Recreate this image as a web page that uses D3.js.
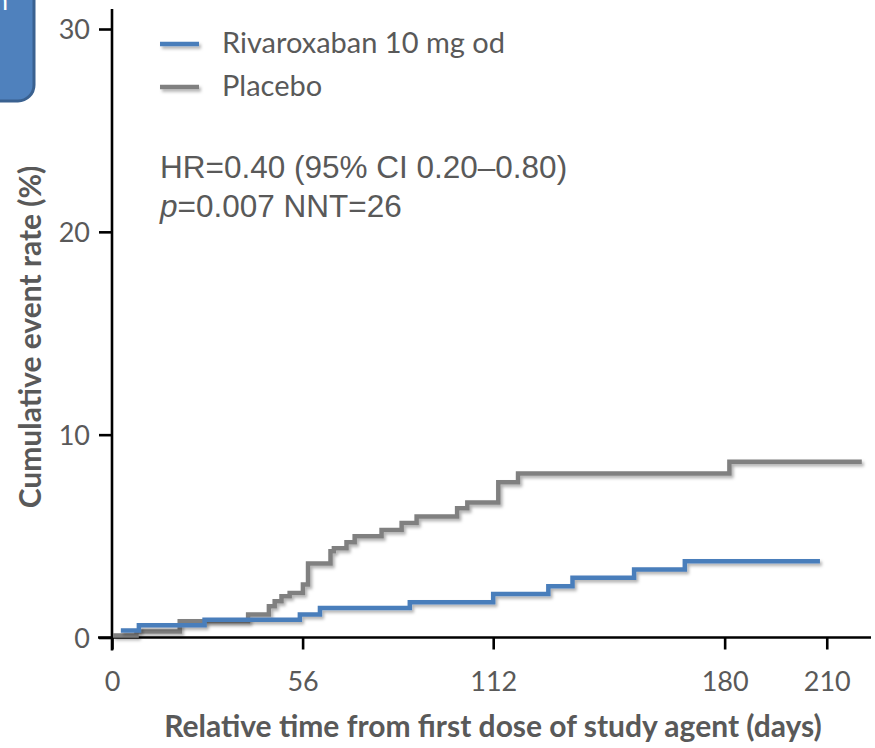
<!DOCTYPE html>
<html lang="en">
<head>
    <meta charset="UTF-8">
    <title>Cumulative event rate</title>
    <script src="https://d3js.org/d3.v7.min.js"></script>
    <style>
        body { margin: 0; background: #ffffff; }
        svg { display: block; }
    </style>
</head>
<body>
    <div id="chart"></div>
    <script>
        // Data (days, cumulative %)
        const rivaDays  = [2.6, 7.9, 27.2, 55.2, 61.1, 87.5, 112, 128.2, 135.3, 153.4, 168.3, 208];
        const rivaRates = [0.35, 0.6, 0.88, 1.13, 1.46, 1.74, 2.15, 2.53, 2.94, 3.35, 3.76, 3.76];

        const placeboDays  = [0.3, 7.2, 19.9, 40, 46.1, 47.8, 49.8, 52.2, 56.1, 57.6, 64.2, 65.2, 68.9, 71.3, 79.2, 85.1, 89.5, 101.4, 104.4, 113.5, 119.3, 181.4, 220.3];
        const placeboRates = [0.1, 0.3, 0.8, 1.13, 1.54, 1.79, 2.03, 2.2, 2.61, 3.65, 4.25, 4.4, 4.69, 4.99, 5.3, 5.64, 5.97, 6.37, 6.66, 7.65, 8.09, 8.66, 8.66];

        const xTicks = [0, 56, 112, 180, 210];
        const yTicks = [0, 10, 20, 30];

        const seriesNames = ["Rivaroxaban 10 mg od", "Placebo"];
        const seriesColors = ["#4a7ebb", "#808080"];

        const width = 875;
        const height = 748;
        const textColor = "#595959";
        const sans = "Lato, 'Open Sans', sans-serif";

        const svg = d3.select("#chart")
            .append("svg")
            .attr("width", width)
            .attr("height", height);

        // soft shadow under the curves (user space so flat lines keep it)
        const defs = svg.append("defs");
        defs.append("filter")
            .attr("id", "shadow")
            .attr("filterUnits", "userSpaceOnUse")
            .attr("x", 0).attr("y", 0)
            .attr("width", width).attr("height", height)
            .append("feDropShadow")
            .attr("dx", 2).attr("dy", 2.5)
            .attr("stdDeviation", 1.5)
            .attr("flood-color", "#000")
            .attr("flood-opacity", 0.3);

        // blue callout box cut off at the top-left corner
        svg.append("rect")
            .attr("x", -40).attr("y", -40)
            .attr("width", 74).attr("height", 141)
            .attr("rx", 16)
            .attr("fill", "#4f81bd")
            .attr("stroke", "#3a6190")
            .attr("stroke-width", 3);
        svg.append("text")
            .attr("x", 8).attr("y", 10)
            .attr("text-anchor", "end")
            .attr("fill", "#ffffff")
            .style("font-family", sans)
            .style("font-size", "26px")
            .text("n");

        // scales
        const x = d3.scaleLinear().domain([0, 223]).range([112, 871]);
        const y = d3.scaleLinear().domain([0, 30]).range([637.5, 29]);

        // axes
        const xAxis = svg.append("g")
            .attr("transform", `translate(0,${y(0)})`)
            .call(d3.axisBottom(x).tickValues(xTicks).tickSize(12).tickPadding(22).tickSizeOuter(0));
        xAxis.select(".domain").attr("d", `M${x(0) - 14},0H${x(223)}`);

        const yAxis = svg.append("g")
            .attr("transform", `translate(${x(0)},0)`)
            .call(d3.axisLeft(y).tickValues(yTicks).tickSize(13).tickPadding(9).tickSizeOuter(0));
        yAxis.select(".domain").attr("d", `M0,9V${y(0) + 13}`);

        svg.selectAll(".domain")
            .attr("stroke", "#000")
            .attr("stroke-width", 2.6);
        svg.selectAll(".tick line")
            .attr("stroke", "#000")
            .attr("stroke-width", 2.6);
        svg.selectAll(".tick text")
            .attr("fill", textColor)
            .style("font-family", sans)
            .style("font-size", "27px");
        xAxis.selectAll(".tick text").attr("dy", "0.71em");
        yAxis.selectAll(".tick text").attr("dy", "0.36em");

        // axis titles
        svg.append("text")
            .attr("x", 493)
            .attr("y", 737)
            .attr("text-anchor", "middle")
            .attr("fill", textColor)
            .style("font-family", sans)
            .style("font-weight", "bold")
            .style("font-size", "30px")
            .text("Relative time from first dose of study agent (days)");

        svg.append("text")
            .attr("transform", "translate(41,337) rotate(-90)")
            .attr("text-anchor", "middle")
            .attr("fill", textColor)
            .style("font-family", sans)
            .style("font-weight", "bold")
            .style("font-size", "30px")
            .text("Cumulative event rate (%)");

        // step curves
        const line = d3.line()
            .x(d => x(d[0]))
            .y(d => y(d[1]))
            .curve(d3.curveStepAfter);

        const placebo = placeboDays.map((d, i) => [d, placeboRates[i]]);
        const riva = rivaDays.map((d, i) => [d, rivaRates[i]]);

        svg.append("path")
            .datum(placebo)
            .attr("d", line)
            .attr("fill", "none")
            .attr("stroke", seriesColors[1])
            .attr("stroke-width", 4.5)
            .attr("filter", "url(#shadow)");

        svg.append("path")
            .datum(riva)
            .attr("d", line)
            .attr("fill", "none")
            .attr("stroke", seriesColors[0])
            .attr("stroke-width", 4.5)
            .attr("filter", "url(#shadow)");

        // legend
        const legend = svg.append("g");
        seriesNames.forEach((name, i) => {
            const ly = 44 + i * 43;
            legend.append("line")
                .attr("x1", 160).attr("x2", 199)
                .attr("y1", ly).attr("y2", ly)
                .attr("stroke", seriesColors[i])
                .attr("stroke-width", 4.5)
                .attr("filter", "url(#shadow)");
            legend.append("text")
                .attr("x", 222)
                .attr("y", ly + 9)
                .attr("fill", textColor)
                .style("font-family", sans)
                .style("font-size", "29px")
                .text(name);
        });

        // stats annotation
        const stats = svg.append("g")
            .attr("fill", textColor)
            .style("font-family", "'Liberation Sans', Arial, sans-serif")
            .style("font-size", "31.5px");
        stats.append("text")
            .attr("x", 160).attr("y", 178)
            .text("HR=0.40 (95% CI 0.20\u20130.80)");
        const pLine = stats.append("text")
            .attr("x", 160).attr("y", 217);
        pLine.append("tspan").style("font-style", "italic").text("p");
        pLine.append("tspan").text("=0.007 NNT=26");
    </script>
</body>
</html>
